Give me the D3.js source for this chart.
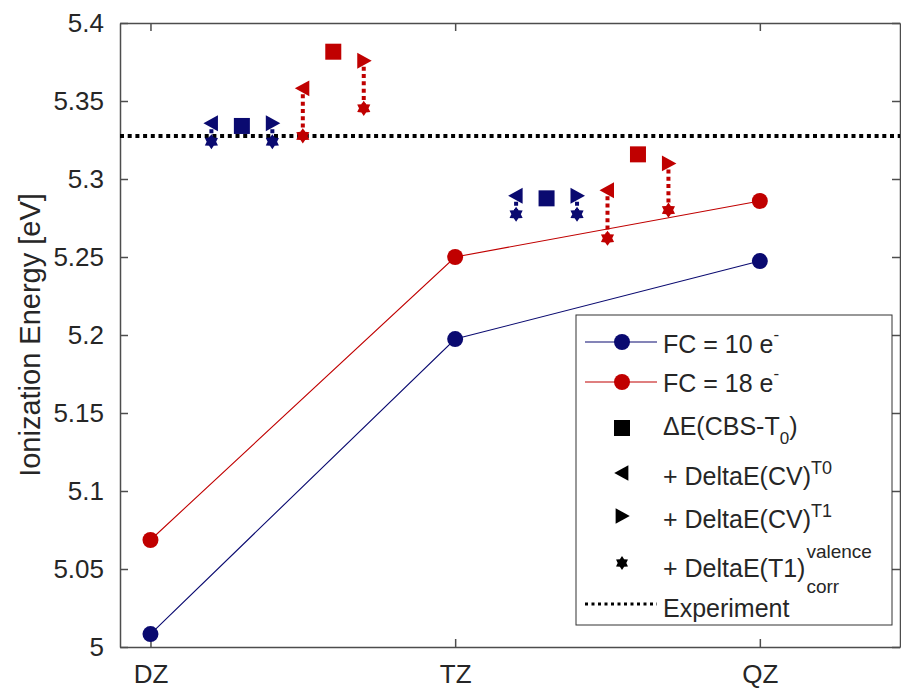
<!DOCTYPE html>
<html>
<head>
<meta charset="utf-8">
<script src="https://cdn.jsdelivr.net/npm/d3@7"></script>
<style>
body { margin: 0; background: #fff; }
svg text { font-family: "Liberation Sans", Arial, sans-serif; fill: #262626; }
</style>
</head>
<body>
<svg class="chart"></svg>
<script>
let width = 901,
height = 688;

// values
let basisSets = ["DZ", "TZ", "QZ"];
let basisPos = [1, 2, 3];
let fc10 = [5.0083, 5.1974, 5.2474];
let fc18 = [5.0686, 5.25, 5.2859];
let experiment = 5.3276;
let yTicks = [5, 5.05, 5.1, 5.15, 5.2, 5.25, 5.3, 5.35, 5.4];

// CBS points: DZ/TZ pair around 1.3 / 1.6, TZ/QZ pair around 2.3 / 2.6
let cbsPos = [1.3, 1.6, 2.3, 2.6];
let cbsCore = [10, 18, 10, 18];
let cbsT0 = [5.334, 5.3816, 5.2876, 5.3158];
let cvT0 = [5.3357, 5.3581, 5.2893, 5.2928];
let cvT1 = [5.3357, 5.3758, 5.2893, 5.31];
let corrT0 = [5.3239, 5.3276, 5.2774, 5.262];
let corrT1 = [5.3239, 5.3453, 5.2774, 5.2801];

let blue = "#0a0a70",
red = "#c00000";
let colorOf = (fc) => (fc == 10 ? blue : red);

let svg = d3.select(".chart").attr("width", width).attr("height", height);

let x = d3.scaleLinear().domain([0.9, 3.46]).range([120, 900]);
let y = d3.scaleLinear().domain([5, 5.4]).range([647, 23]);

// custom marker shapes
let triLeft = {
  draw(ctx, size) {
    let r = Math.sqrt(size);
    ctx.moveTo(-r * 0.55, 0);
    ctx.lineTo(r * 0.45, -r * 0.55);
    ctx.lineTo(r * 0.45, r * 0.55);
    ctx.closePath();
  },
};
let triRight = {
  draw(ctx, size) {
    let r = Math.sqrt(size);
    ctx.moveTo(r * 0.55, 0);
    ctx.lineTo(-r * 0.45, -r * 0.55);
    ctx.lineTo(-r * 0.45, r * 0.55);
    ctx.closePath();
  },
};
let hexagram = {
  draw(ctx, size) {
    let r = Math.sqrt(size) / 2;
    let ri = r / 1.6;
    for (let i = 0; i < 12; i++) {
      let a = (i * Math.PI) / 6 - Math.PI / 2;
      let rr = i % 2 ? ri : r;
      if (i == 0) ctx.moveTo(rr * Math.cos(a), rr * Math.sin(a));
      else ctx.lineTo(rr * Math.cos(a), rr * Math.sin(a));
    }
    ctx.closePath();
  },
};

// axes
let axisColor = "#4d4d4d";
let yAxis = svg
  .append("g")
  .attr("transform", "translate(120,0)")
  .call(
    d3.axisLeft(y).tickValues(yTicks).tickFormat(d3.format("~g"))
      .tickSizeInner(-8).tickSizeOuter(0).tickPadding(16)
  );
let xAxis = svg
  .append("g")
  .attr("transform", "translate(0,647)")
  .call(
    d3.axisBottom(x).tickValues(basisPos).tickFormat((d, i) => basisSets[i])
      .tickSizeInner(-8).tickSizeOuter(0).tickPadding(18)
  );
let topAxis = svg
  .append("g")
  .attr("transform", "translate(0,23)")
  .call(d3.axisTop(x).tickValues(basisPos).tickFormat("").tickSizeInner(-8).tickSizeOuter(0));
let rightAxis = svg
  .append("g")
  .attr("transform", "translate(900,0)")
  .call(d3.axisRight(y).tickValues(yTicks).tickFormat("").tickSizeInner(-8).tickSizeOuter(0));

[yAxis, xAxis, topAxis, rightAxis].forEach((g) => {
  g.selectAll("path, line").attr("stroke", axisColor).attr("stroke-width", 1.5);
  g.selectAll("text").attr("font-size", 26).attr("fill", "#262626");
});

svg
  .append("text")
  .attr("transform", "translate(40,335) rotate(-90)")
  .attr("text-anchor", "middle")
  .attr("font-size", 29)
  .text("Ionization Energy [eV]");

// experiment
svg
  .append("line")
  .attr("x1", x.range()[0])
  .attr("x2", x.range()[1])
  .attr("y1", y(experiment))
  .attr("y2", y(experiment))
  .attr("stroke", "#000")
  .attr("stroke-width", 4)
  .attr("stroke-dasharray", "4,3.7");

// basis set lines
let line = d3.line().x((d, i) => x(basisPos[i])).y((d) => y(d));
[
  [fc10, blue],
  [fc18, red],
].forEach(([vals, col]) => {
  svg.append("path").datum(vals).attr("d", line)
    .attr("fill", "none").attr("stroke", col).attr("stroke-width", 1.1);
  svg.append("g").selectAll("circle").data(vals).enter().append("circle")
    .attr("cx", (d, i) => x(basisPos[i]))
    .attr("cy", (d) => y(d))
    .attr("r", 8)
    .attr("fill", col);
});

// corrections
let corrRows = [];
for (let i = 0; i < cbsPos.length; i++) {
  corrRows.push({ px: cbsPos[i] - 0.1, top: cvT0[i], bottom: corrT0[i], shape: triLeft, fc: cbsCore[i] });
  corrRows.push({ px: cbsPos[i] + 0.1, top: cvT1[i], bottom: corrT1[i], shape: triRight, fc: cbsCore[i] });
}

svg.append("g").selectAll("line").data(corrRows).enter().append("line")
  .attr("x1", (d) => x(d.px)).attr("x2", (d) => x(d.px))
  .attr("y1", (d) => y(d.top) + 6).attr("y2", (d) => y(d.bottom))
  .attr("stroke", (d) => colorOf(d.fc))
  .attr("stroke-width", 4)
  .attr("stroke-dasharray", "4,3.3");

svg.append("g").selectAll("path").data(corrRows).enter().append("path")
  .attr("transform", (d) => `translate(${x(d.px)},${y(d.top)})`)
  .attr("d", (d) => d3.symbol().type(d.shape).size(210)())
  .attr("fill", (d) => colorOf(d.fc));

svg.append("g").selectAll("path").data(corrRows).enter().append("path")
  .attr("transform", (d) => `translate(${x(d.px)},${y(d.bottom)})`)
  .attr("d", d3.symbol().type(hexagram).size(230)())
  .attr("fill", (d) => colorOf(d.fc));

svg.append("g").selectAll("rect").data(cbsT0).enter().append("rect")
  .attr("x", (d, i) => x(cbsPos[i]) - 8)
  .attr("y", (d) => y(d) - 8)
  .attr("width", 16)
  .attr("height", 16)
  .attr("fill", (d, i) => colorOf(cbsCore[i]));

// legend
let lg = svg.append("g");
lg.append("rect")
  .attr("x", 576).attr("y", 315).attr("width", 316).attr("height", 310)
  .attr("fill", "#fff").attr("stroke", "#333").attr("stroke-width", 1);

let lx = 663,
mx = 622,
fs = 25,
sfs = 17;

function legText(yb) {
  return lg.append("text").attr("x", lx).attr("y", yb).attr("font-size", fs);
}

[
  [342, blue, "FC = 10 e", 353],
  [382, red, "FC = 18 e", 392],
].forEach(([ly, col, label, yb]) => {
  lg.append("line").attr("x1", 585).attr("x2", 657).attr("y1", ly).attr("y2", ly)
    .attr("stroke", col).attr("stroke-width", 1.1);
  lg.append("circle").attr("cx", mx).attr("cy", ly).attr("r", 8).attr("fill", col);
  let t = legText(yb);
  t.append("tspan").text(label);
  t.append("tspan").attr("font-size", sfs).attr("dy", -13).text("-");
});

lg.append("rect").attr("x", mx - 8).attr("y", 420).attr("width", 16).attr("height", 16).attr("fill", "#000");
let t3 = legText(435);
t3.append("tspan").text("\u0394E(CBS-T");
t3.append("tspan").attr("font-size", sfs).attr("dy", 9).text("0");
t3.append("tspan").attr("dy", -9).text(")");

lg.append("path").attr("transform", `translate(${mx},473)`)
  .attr("d", d3.symbol().type(triLeft).size(200)()).attr("fill", "#000");
let t4 = legText(485);
t4.append("tspan").text("+ DeltaE(CV)");
t4.append("tspan").attr("font-size", sfs + 1).attr("dy", -11).text("T0");

lg.append("path").attr("transform", `translate(${mx},516)`)
  .attr("d", d3.symbol().type(triRight).size(200)()).attr("fill", "#000");
let t5 = legText(528);
t5.append("tspan").text("+ DeltaE(CV)");
t5.append("tspan").attr("font-size", sfs + 1).attr("dy", -11).text("T1");

lg.append("path").attr("transform", `translate(${mx},563)`)
  .attr("d", d3.symbol().type(hexagram).size(190)()).attr("fill", "#000");
let t6 = legText(577).text("+ DeltaE(T1)");
let w6 = t6.node().getComputedTextLength();
lg.append("text").attr("x", lx + w6 + 1).attr("y", 558).attr("font-size", sfs + 2).text("valence");
lg.append("text").attr("x", lx + w6 + 1).attr("y", 593).attr("font-size", sfs + 2).text("corr");

lg.append("line").attr("x1", 585).attr("x2", 657).attr("y1", 604).attr("y2", 604)
  .attr("stroke", "#000").attr("stroke-width", 3).attr("stroke-dasharray", "3,3.5");
legText(617).text("Experiment");
</script>
</body>
</html>
